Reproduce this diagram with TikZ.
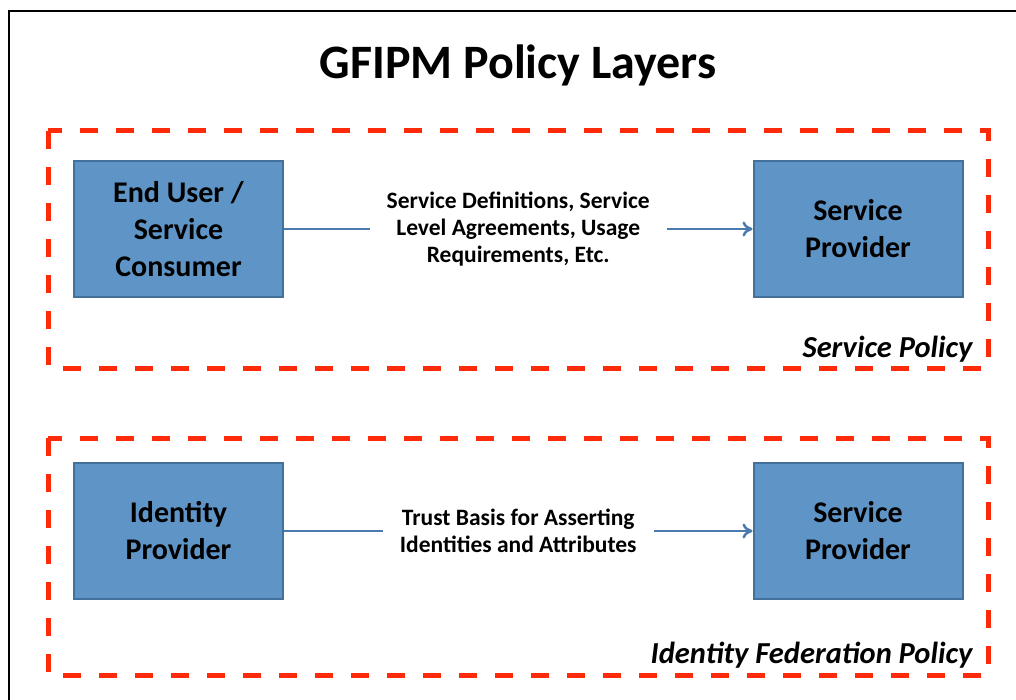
\documentclass[tikz,border=0pt]{standalone}
\usepackage{fontspec}
\setmainfont{Carlito}
\usepackage{xcolor}
\usepackage{tikz}
\usetikzlibrary{arrows.meta}
\definecolor{frame}{HTML}{000000}
\definecolor{dashred}{HTML}{FF2A0A}
\definecolor{boxfill}{HTML}{5E95C6}
\definecolor{boxline}{HTML}{43719C}
\definecolor{flowline}{HTML}{4A7AAE}
\tikzset{
  policybox/.style={draw=dashred, line width=5pt, dash pattern=on 18pt off 18pt},
  actor/.style={draw=boxline, line width=2pt, fill=boxfill, minimum width=209pt,
    minimum height=136pt, align=center, inner sep=0pt,
    font=\fontsize{30}{37}\selectfont\bfseries},
  flow/.style={draw=flowline, line width=2.5pt, -{To[length=10pt,width=15pt]}},
  flowlab/.style={fill=white, inner xsep=17pt, inner ysep=2pt, align=center,
    font=\fontsize{23.5}{27}\selectfont\bfseries},
  lab/.style={font=\fontsize{30.5}{34}\selectfont\bfseries\itshape}
}
\begin{document}
\begin{tikzpicture}[x=1pt,y=-1pt]
  \useasboundingbox (0,0) rectangle (1016,700);
  \draw[frame, line width=1.5pt] (9,700) -- (9,11) -- (1016,11);
  \node[font=\fontsize{48}{58}\selectfont\bfseries] (title) at (518,65) {GFIPM Policy Layers};

  % Service policy layer
  \draw[policybox] (48,131) rectangle (988,368);
  \node[actor] (user) at (178.5,229) {End User /\\Service\\Consumer};
  \node[actor] (sp1) at (858,229) {Service\\Provider};
  \draw[flow] (user) -- node[flowlab] {Service Definitions, Service\\Level Agreements, Usage\\Requirements, Etc.} (sp1);
  \node[lab, anchor=base east] (svcpol) at (976,357) {Service Policy};

  % Identity federation layer
  \draw[policybox] (48,438) rectangle (988,675);
  \node[actor] (idp) at (178.5,531) {Identity\\Provider};
  \node[actor] (sp2) at (858,531) {Service\\Provider};
  \draw[flow] (idp) -- node[flowlab] {Trust Basis for Asserting\\Identities and Attributes} (sp2);
  \node[lab, anchor=base east] (fedpol) at (976,663) {Identity Federation Policy};
\end{tikzpicture}
\end{document}
